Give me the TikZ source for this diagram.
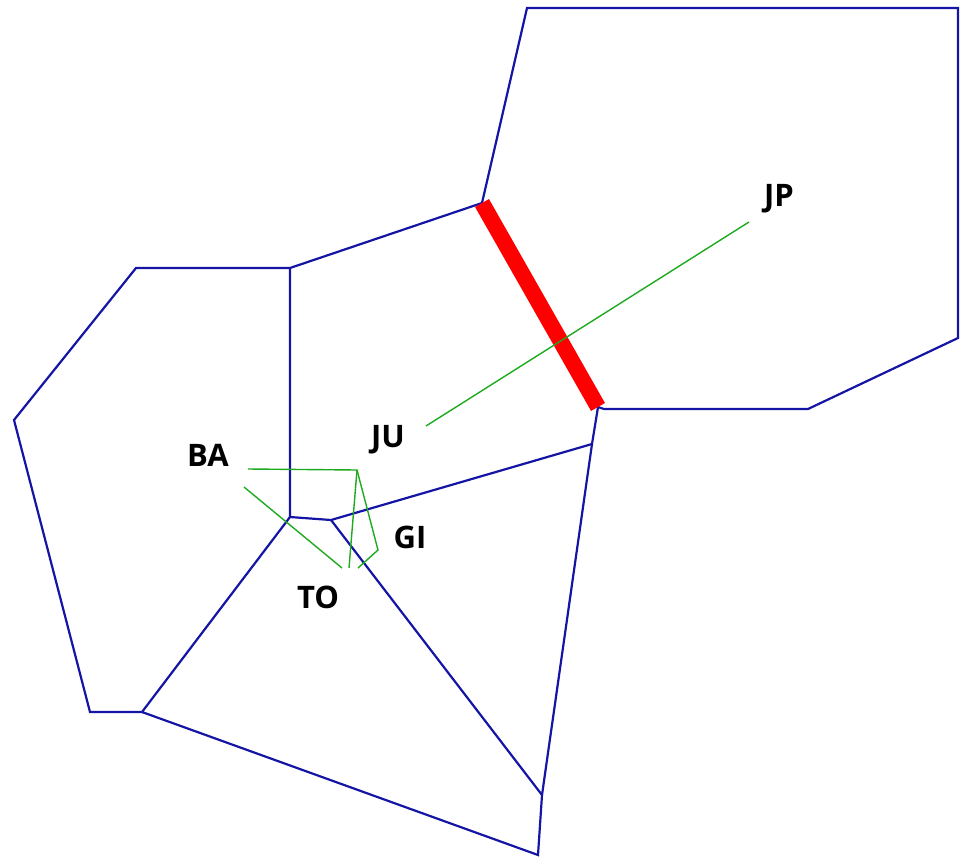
\documentclass[tikz,border=0pt]{standalone}
\usepackage{fontspec}
\setsansfont{Open Sans}
\usepackage{xcolor}
\usepackage{tikz}
\usetikzlibrary{positioning}

\definecolor{cellblue}{RGB}{20,20,165}
\definecolor{linkgreen}{RGB}{30,170,30}

\begin{document}
\begin{tikzpicture}[
    x=1pt, y=-1pt,
    every node/.style={font=\sffamily\bfseries\fontsize{31}{31}\selectfont, inner sep=0pt},
    edge/.style={draw=cellblue, line width=2.2pt},
    link/.style={draw=linkgreen, line width=1.4pt},
    cut/.style={draw=red, line width=16pt}
]
\useasboundingbox (0,0) rectangle (961,857);
% cell corners
\coordinate (a1) at (527,8);
\coordinate (a2) at (958,8);
\coordinate (a3) at (958,338);
\coordinate (a4) at (808,409);
\coordinate (a5) at (604,409);
\coordinate (c1) at (482,203);
\coordinate (c2) at (598,407);
\coordinate (b1) at (290,268);
\coordinate (b2) at (136,268);
\coordinate (b3) at (14,420);
\coordinate (b4) at (90,712);
\coordinate (b5) at (142,712);
\coordinate (m1) at (290,517);
\coordinate (m2) at (331,520);
\coordinate (g1) at (592,444);
\coordinate (g2) at (542,795);
\coordinate (t1) at (538,855);
% cell edges
\draw[edge] (c1) -- (a1) -- (a2) -- (a3) -- (a4) -- (a5) -- (c2);
\draw[edge] (c2) -- (g1) -- (m2) -- (m1) -- (b1) -- (c1);
\draw[edge] (b1) -- (b2) -- (b3) -- (b4) -- (b5) -- (m1);
\draw[edge] (b5) -- (t1) -- (g2) -- (m2);
\draw[edge] (g2) -- (g1);
\draw[cut] (c1) -- (c2);

% labels
\node (ba) at (208,455) {BA};
\node (ju) at (388,440) {JU};
\node (gi) at (410,537) {GI};
\node (to) at (318,597) {TO};
\node (jp) at (779,199) {JP};

% links
\coordinate (l1) at (248,469);
\coordinate (l2) at (357,470);
\coordinate (l3) at (378,550);
\coordinate (l4) at (358,568);
\coordinate (l5) at (349,568);
\coordinate (l6) at (244,487);
\coordinate (l7) at (342,568);
\coordinate (l8) at (426,426);
\coordinate (l9) at (749,222);
\draw[link] (l1) -- (l2) -- (l3) -- (l4);
\draw[link] (l2) -- (l5);
\draw[link] (l6) -- (l7);
\draw[link] (l8) -- (l9);
\end{tikzpicture}
\end{document}
